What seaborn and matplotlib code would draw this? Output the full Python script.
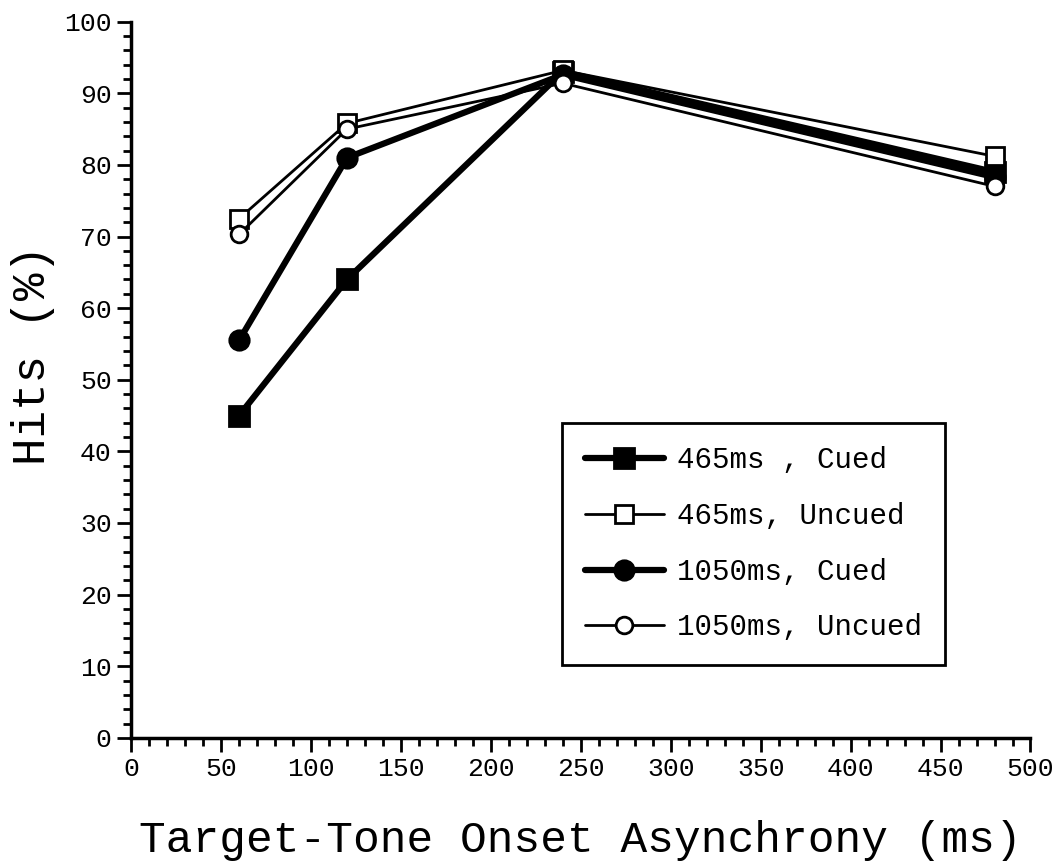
import matplotlib
matplotlib.use("Agg")
import matplotlib.pyplot as plt
import pandas as pd
import seaborn as sns
from matplotlib.ticker import MultipleLocator

# Target-tone onset asynchrony (ms)
soa = [60, 120, 240, 480]

# Hits (%) per condition
hits_465_cued = [45.0, 64.0, 93.0, 79.0]
hits_465_uncued = [72.5, 85.8, 93.2, 81.2]
hits_1050_cued = [55.5, 81.0, 92.6, 78.3]
hits_1050_uncued = [70.3, 85.0, 91.4, 77.0]

labels = ["465ms , Cued", "465ms, Uncued", "1050ms, Cued", "1050ms, Uncued"]

sns.set_style("ticks")
plt.rcParams["font.family"] = ["Liberation Mono", "DejaVu Sans Mono"]
for key in ["text.color", "axes.labelcolor", "xtick.color", "ytick.color"]:
    plt.rcParams[key] = "black"

fig = plt.figure(figsize=(10.58, 8.66), dpi=100)
ax = fig.add_axes([0.124, 0.148, 0.85, 0.827])

series = [
    (hits_465_cued, "s", "black", 4.5, 14),
    (hits_465_uncued, "s", "white", 2.0, 13),
    (hits_1050_cued, "o", "black", 4.5, 14),
    (hits_1050_uncued, "o", "white", 2.0, 12),
]

for (vals, mk, face, lw, ms), lab in zip(series, labels):
    df = pd.DataFrame({"soa": soa, "hits": vals})
    sns.lineplot(data=df, x="soa", y="hits", ax=ax, color="black", lw=lw,
                 marker=mk, markersize=ms, markerfacecolor=face,
                 markeredgecolor="black", markeredgewidth=2, label=lab)

ax.set_xlim(0, 500)
ax.set_ylim(0, 100)
ax.xaxis.set_major_locator(MultipleLocator(50))
ax.xaxis.set_minor_locator(MultipleLocator(10))
ax.yaxis.set_major_locator(MultipleLocator(10))
ax.yaxis.set_minor_locator(MultipleLocator(2))
ax.tick_params(which="major", direction="out", length=10, width=2,
               labelsize=19, color="black", pad=4)
ax.tick_params(which="minor", direction="out", length=6, width=2, color="black")
sns.despine(ax=ax)
for s in ["left", "bottom"]:
    ax.spines[s].set_linewidth(2.5)
    ax.spines[s].set_color("black")

ax.set_xlabel("Target-Tone Onset Asynchrony (ms)", fontsize=32, labelpad=28)
ax.set_ylabel("Hits (%)", fontsize=33)
ax.yaxis.set_label_coords(-0.085, 0.535)

leg = ax.legend(loc="lower right", bbox_to_anchor=(0.905, 0.102), fontsize=21,
                frameon=True, fancybox=False, edgecolor="black", framealpha=1,
                handlelength=2.7, labelspacing=0.95, borderpad=0.8,
                handletextpad=0.45, borderaxespad=0)
leg.get_frame().set_linewidth(2)

fig.savefig("out.png", dpi=100)
